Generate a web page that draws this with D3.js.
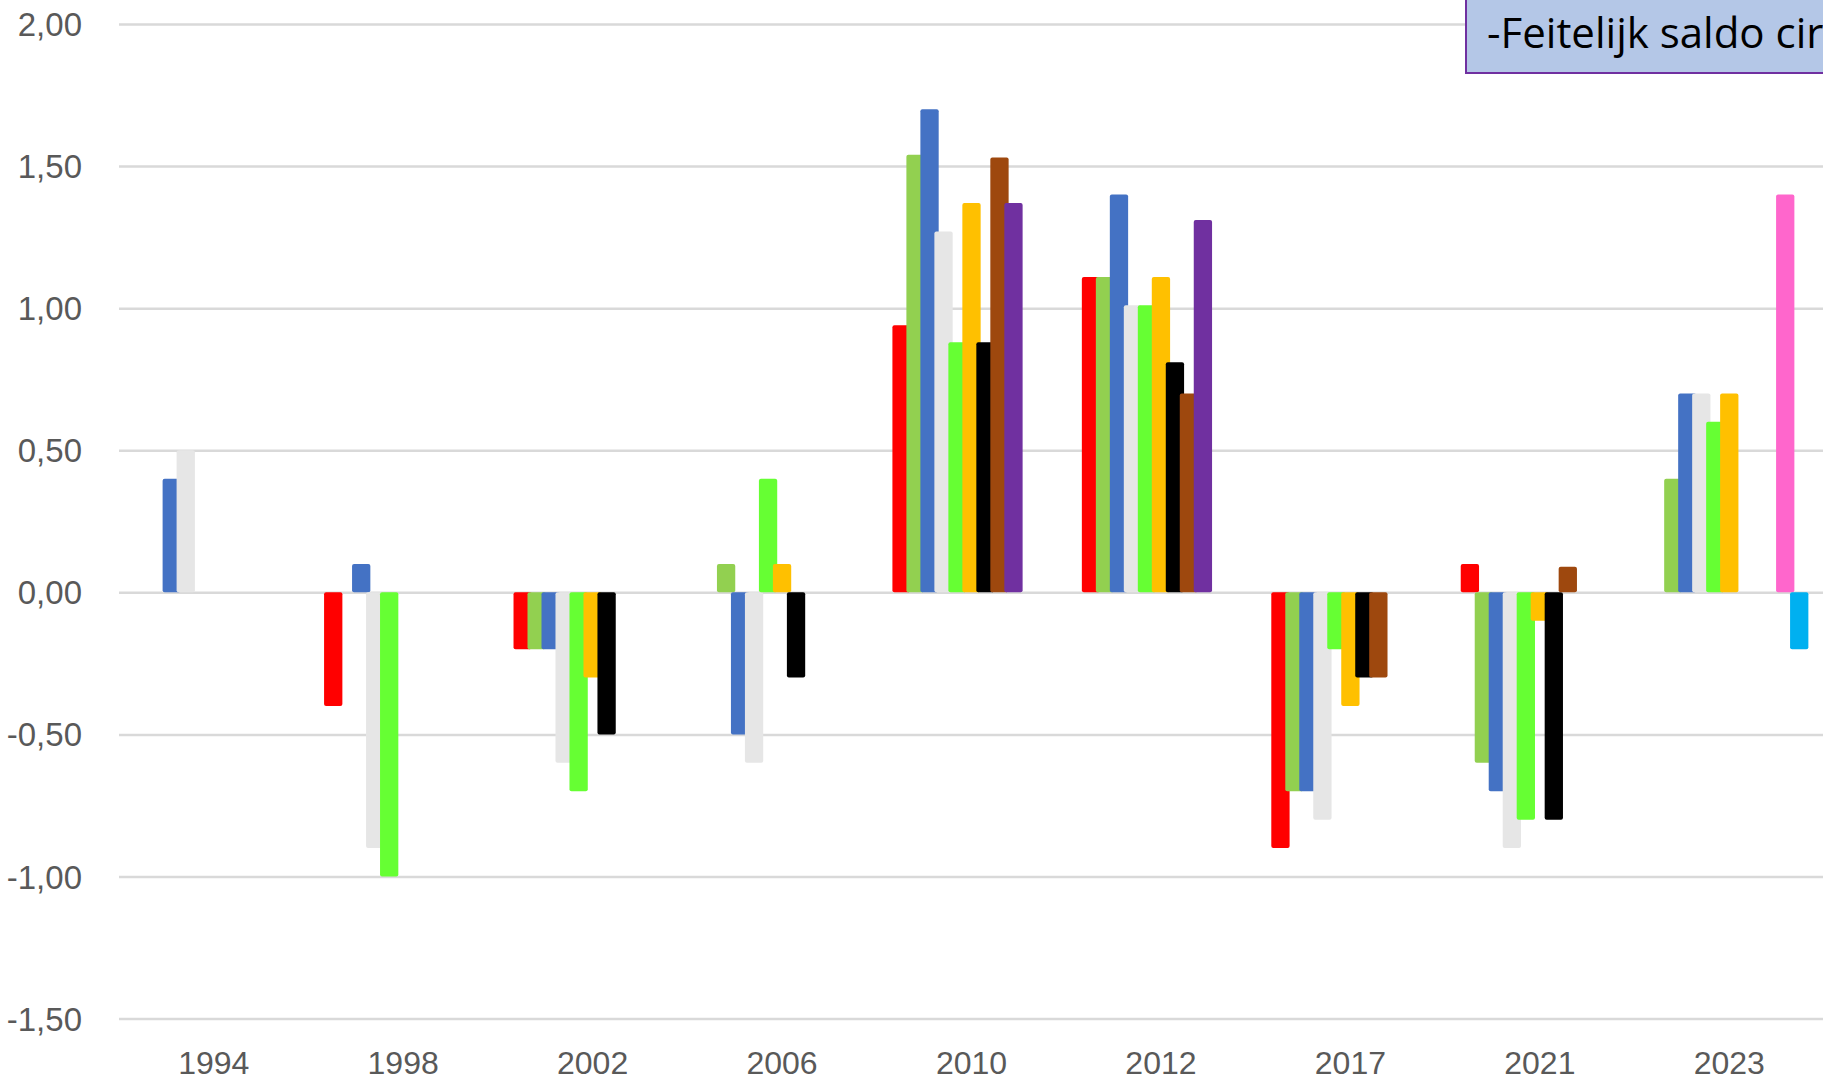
<!DOCTYPE html>
<html>
<head>
<meta charset="utf-8">
<script src="https://cdn.jsdelivr.net/npm/d3@7"></script>
<style>
  html, body { margin: 0; padding: 0; background: #fff; overflow: hidden; }
  svg { display: block; }
</style>
</head>
<body>
<script>
const width = 1823;
const height = 1084;

// categories (jaren)
const years = ["1994", "1998", "2002", "2006", "2010", "2012", "2017", "2021", "2023"];

// series values, one array per colour, null = no bar
const rood      = [null, -0.40, -0.20, null, 0.94, 1.11, -0.90, 0.10, null];
const lichtgroen = [null, null, -0.20, 0.10, 1.54, 1.11, -0.70, -0.60, 0.40];
const blauw     = [0.40, 0.10, -0.20, -0.50, 1.70, 1.40, -0.70, -0.70, 0.70];
const grijs     = [0.50, -0.90, -0.60, -0.60, 1.27, 1.01, -0.80, -0.90, 0.70];
const groen     = [null, -1.00, -0.70, 0.40, 0.88, 1.01, -0.20, -0.80, 0.60];
const oranje    = [null, null, -0.30, 0.10, 1.37, 1.11, -0.40, -0.10, 0.70];
const zwart     = [null, null, -0.50, -0.30, 0.88, 0.81, -0.30, -0.80, null];
const bruin     = [null, null, null, null, 1.53, 0.70, -0.30, 0.09, null];
const paars     = [null, null, null, null, 1.37, 1.31, null, null, null];
const roze      = [null, null, null, null, null, null, null, null, 1.40];
const cyaan     = [null, null, null, null, null, null, null, null, -0.20];

const series = [rood, lichtgroen, blauw, grijs, groen, oranje, zwart, bruin, paars, roze, cyaan];
const colors = ["#FF0000", "#92D050", "#4472C4", "#E6E6E6", "#66FF33", "#FFC000",
                "#000000", "#9E480E", "#7030A0", "#FF66CC", "#00B0F0"];

// y tick labels
const yTicks = [-1.5, -1.0, -0.5, 0, 0.5, 1.0, 1.5, 2.0];
const titleText = "-Feitelijk saldo cir";

const svg = d3.select("body")
  .append("svg")
  .attr("width", width)
  .attr("height", height)
  .style("font-family", "'Open Sans', sans-serif");

svg.append("rect").attr("width", width).attr("height", height).attr("fill", "#fff");

const plotLeft = 119;
const plotRight = 1824;
const y = d3.scaleLinear().domain([-1.5, 2]).range([1018.6, 24]);
const x0 = d3.scaleBand().domain(years).range([plotLeft, plotRight])
  .paddingInner(0.165).paddingOuter(0.0825);
const barW = 18.3;
const x1 = d3.scalePoint().domain(d3.range(series.length)).range([0, x0.bandwidth() - barW]);

const nl = d3.formatLocale({ decimal: ",", thousands: ".", grouping: [3], currency: ["€", ""], minus: "-" });
const fmt = nl.format(".2f");

// gridlines + y labels
const yAxis = svg.append("g")
  .attr("transform", `translate(${plotLeft},0)`)
  .call(d3.axisLeft(y).tickValues(yTicks).tickFormat(fmt)
    .tickSize(-(plotRight - plotLeft)).tickPadding(37));
yAxis.select(".domain").remove();
yAxis.selectAll(".tick line").attr("stroke", "#D9D9D9").attr("stroke-width", 2.5);
yAxis.selectAll(".tick text")
  .attr("fill", "#595959")
  .style("font-size", "33px")
  .attr("dy", "0.35em");

// bars
series.forEach((vals, i) => {
  svg.append("g")
    .selectAll("rect")
    .data(vals.map((v, j) => ({ year: years[j], v })).filter(d => d.v !== null))
    .enter()
    .append("rect")
    .attr("x", d => x0(d.year) + x1(i))
    .attr("y", d => y(Math.max(0, d.v)))
    .attr("width", barW)
    .attr("height", d => Math.abs(y(d.v) - y(0)))
    .attr("rx", 2)
    .attr("fill", colors[i]);
});

// x labels
const xAxis = svg.append("g")
  .attr("transform", `translate(0,1074)`)
  .call(d3.axisBottom(x0).tickSize(0).tickPadding(0));
xAxis.select(".domain").remove();
xAxis.selectAll(".tick text")
  .attr("fill", "#595959")
  .attr("dy", 0)
  .attr("y", 0)
  .style("font-size", "32px");

// title box (top right, cut off by the edge)
const box = svg.append("g");
box.append("rect")
  .attr("x", 1466).attr("y", -4)
  .attr("width", 420).attr("height", 77)
  .attr("fill", "#B4C7E7")
  .attr("stroke", "#7030A0")
  .attr("stroke-width", 2);
box.append("text")
  .attr("x", 1487).attr("y", 48)
  .attr("fill", "#000")
  .style("font-size", "42px")
  .text(titleText);
</script>
</body>
</html>
